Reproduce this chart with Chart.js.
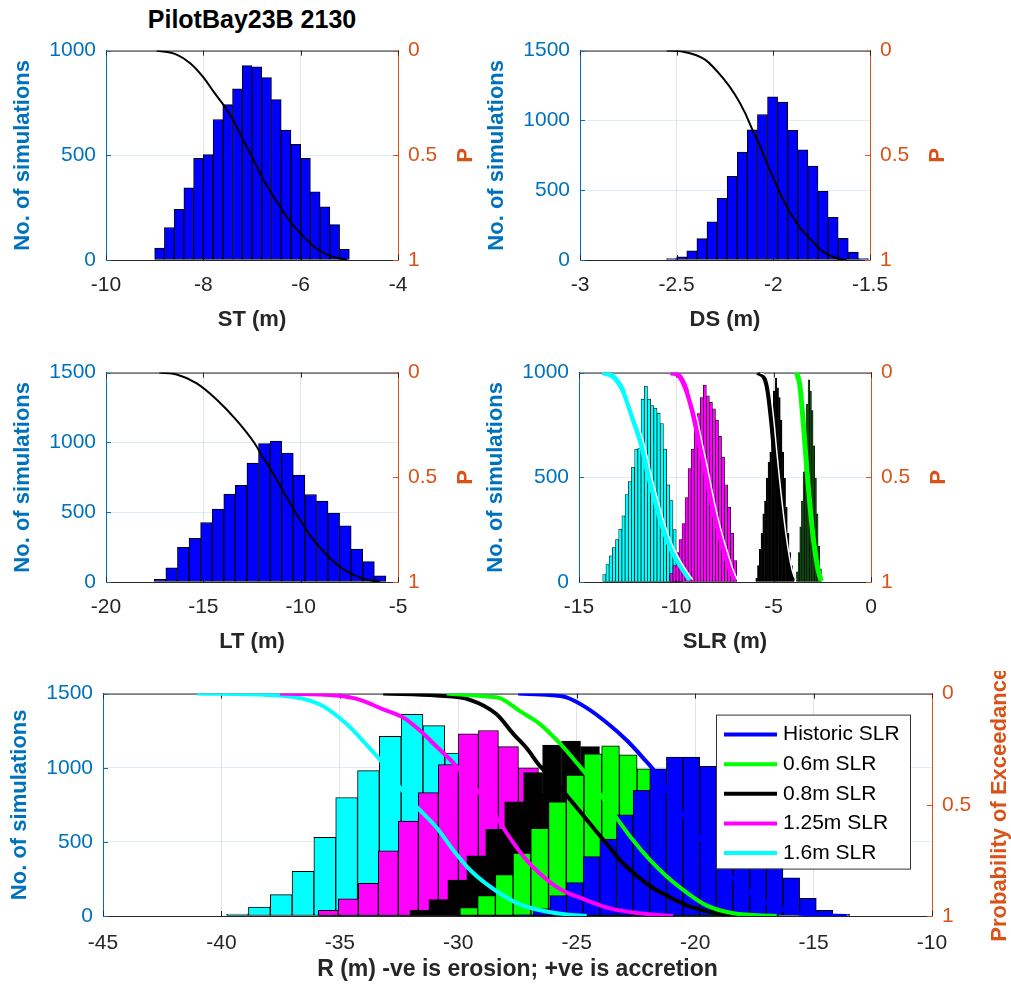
<!DOCTYPE html>
<html>
<head>
<meta charset="utf-8">
<title>PilotBay23B 2130</title>
<script src="https://cdn.jsdelivr.net/npm/chart.js@4.4.1/dist/chart.umd.min.js"></script>
<style>
html, body { margin: 0; padding: 0; background: #fff; overflow: hidden; }
body { width: 1011px; height: 992px; position: relative; }
.plot { position: absolute; }
#figTitle {
	position: absolute; left: 106px; width: 292px; top: 5px;
	text-align: center; white-space: nowrap;
	font: bold 25px "Liberation Sans", Arial, sans-serif; color: #000;
}
</style>
</head>
<body>
<div id="figTitle">PilotBay23B 2130</div>
<canvas id="stChart" class="plot"></canvas>
<canvas id="dsChart" class="plot"></canvas>
<canvas id="ltChart" class="plot"></canvas>
<canvas id="slrChart" class="plot"></canvas>
<canvas id="rChart" class="plot"></canvas>
<script>
// ---- ST (m) ----
const stBinStart = -9.0;
const stBinWidth = 0.2;
const stCounts = [57, 155, 242, 345, 486, 503, 671, 742, 818, 928, 922, 871, 766, 620, 552, 486, 325, 254, 169, 51];
const stCurveX = [-8.96, -8.55, -8.27, -7.99, -7.79, -7.59, -7.38, -7.18, -6.97, -6.77, -6.49, -6.22, -5.99, -5.67, -5.33, -5.05];
const stCurveP = [0, 0.019, 0.06, 0.13, 0.196, 0.258, 0.335, 0.428, 0.521, 0.614, 0.722, 0.815, 0.876, 0.946, 0.985, 1.0];

// ---- DS (m) ----
const dsBinStart = -2.552;
const dsBinWidth = 0.0522;
const dsCounts = [10, 23, 65, 153, 274, 441, 599, 773, 933, 1042, 1168, 1131, 929, 789, 673, 492, 306, 156, 56, 10];
const dsCurveX = [-2.552, -2.466, -2.353, -2.259, -2.198, -2.147, -2.112, -2.069, -2.034, -1.983, -1.931, -1.862, -1.793, -1.741, -1.672, -1.621];
const dsCurveP = [0, 0.005, 0.043, 0.133, 0.211, 0.296, 0.37, 0.455, 0.536, 0.644, 0.745, 0.845, 0.915, 0.961, 0.992, 1.0];

// ---- LT (m) ----
const ltBinStart = -17.52;
const ltBinWidth = 0.595;
const ltCounts = [19, 102, 248, 312, 426, 523, 630, 692, 852, 991, 1009, 924, 766, 627, 579, 493, 403, 236, 146, 44];
const ltCurveX = [-17.26, -16.37, -15.34, -14.32, -13.29, -12.43, -11.92, -11.40, -10.89, -10.21, -9.52, -8.84, -8.15, -7.47, -6.78, -5.92];
const ltCurveP = [0, 0.009, 0.051, 0.128, 0.228, 0.329, 0.406, 0.483, 0.568, 0.676, 0.776, 0.853, 0.915, 0.957, 0.985, 1.0];

// ---- SLR (m) ----
const slrCyanStart = -13.78, slrCyanWidth = 0.164;
const slrCyanCounts = [36, 86, 125, 164, 202, 253, 316, 418, 480, 548, 634, 640, 873, 935, 873, 842, 830, 807, 757, 634, 464, 389, 250, 120, 35];
const slrMagStart = -10.33, slrMagWidth = 0.156;
const slrMagCounts = [40, 79, 140, 202, 279, 403, 542, 634, 727, 804, 881, 940, 889, 858, 827, 773, 696, 596, 464, 356, 233, 102];
const slrBlackStart = -5.92, slrBlackWidth = 0.09;
const slrBlackCounts = [17, 79, 156, 233, 325, 387, 495, 573, 619, 681, 912, 974, 927, 881, 773, 619, 495, 356, 233, 140, 79, 33];
const slrGreenStart = -3.83, slrGreenWidth = 0.0855;
const slrGreenCounts = [48, 140, 264, 387, 526, 619, 850, 966, 912, 819, 650, 495, 325, 171, 63];

const slrCyanX = [-13.80, -13.24, -12.73, -12.21, -11.78, -11.44, -11.10, -10.76, -10.33, -9.90, -9.47, -9.30];
const slrCyanP = [0, 0.019, 0.088, 0.227, 0.35, 0.49, 0.61, 0.72, 0.83, 0.906, 0.968, 0.99];
const slrCyanWhiteX = [-12.58, -12.06, -11.63, -11.29, -10.95, -10.61, -10.18, -9.75, -9.32, -9.15];
const slrCyanWhiteP = [0.088, 0.227, 0.35, 0.49, 0.61, 0.72, 0.83, 0.906, 0.968, 0.99];
const slrMagX = [-10.28, -9.82, -9.47, -9.14, -8.79, -8.54, -8.28, -8.02, -7.77, -7.51, -7.25, -7.0];
const slrMagP = [0, 0.019, 0.088, 0.196, 0.35, 0.458, 0.58, 0.69, 0.78, 0.86, 0.937, 0.99];
const slrMagWhiteX = [-9.32, -8.99, -8.64, -8.39, -8.13, -7.87, -7.62, -7.36, -7.10, -6.86];
const slrMagWhiteP = [0.088, 0.196, 0.35, 0.458, 0.58, 0.69, 0.78, 0.86, 0.937, 0.99];
const slrBlackX = [-5.82, -5.46, -5.29, -5.11, -4.94, -4.77, -4.60, -4.43, -4.26, -4.09, -3.97];
const slrBlackP = [0, 0.026, 0.088, 0.227, 0.397, 0.551, 0.69, 0.81, 0.906, 0.968, 0.99];
const slrBlackWhiteX = [-5.68, -5.33, -5.17, -4.99, -4.82, -4.65, -4.48, -4.31, -4.14, -3.97, -3.85];
const slrGreenX = [-3.83, -3.66, -3.49, -3.35, -3.23, -3.11, -2.98, -2.84, -2.70, -2.55];
const slrGreenP = [0, 0.057, 0.227, 0.397, 0.535, 0.66, 0.78, 0.875, 0.95, 0.995];

// ---- R (m), one histogram + exceedance curve per scenario ----
const scenarioLabels = ["Historic SLR", "0.6m SLR", "0.8m SLR", "1.25m SLR", "1.6m SLR"];
const rBlueStart = -27.54, rBlueWidth = 0.703;
const rBlueCounts = [8, 50, 137, 225, 400, 519, 683, 847, 993, 1072, 1072, 1010, 960, 840, 680, 420, 258, 120, 39, 11];
const rGreenStart = -29.93, rGreenWidth = 0.748;
const rGreenCounts = [57, 137, 280, 425, 592, 770, 950, 1094, 1148, 1087, 993, 820, 620, 420, 250, 120, 45, 15];
const rBlackStart = -32.04, rBlackWidth = 0.8;
const rBlackCounts = [39, 111, 242, 406, 585, 770, 967, 1153, 1179, 1142, 980, 760, 540, 340, 180, 80, 25];
const rMagStart = -35.91, rMagWidth = 0.845;
const rMagCounts = [39, 116, 220, 439, 640, 832, 1022, 1229, 1251, 1142, 1000, 820, 620, 420, 250, 120, 40];
const rCyanStart = -39.78, rCyanWidth = 0.921;
const rCyanCounts = [13, 61, 144, 301, 530, 799, 980, 1211, 1360, 1284, 1098, 880, 640, 420, 230, 100, 30];

const rBlueX = [-27.47, -26.13, -25.43, -24.58, -23.74, -22.89, -22.19, -21.63, -20.8, -20.0, -19.0, -18.0, -17.0, -16.0, -15.0, -13.6];
const rBlueP = [0, 0.006, 0.017, 0.064, 0.130, 0.210, 0.290, 0.36, 0.50, 0.62, 0.76, 0.87, 0.94, 0.98, 0.995, 1.0];
const rGreenX = [-30.49, -28.80, -28.24, -27.40, -26.55, -25.71, -25.00, -24.44, -23.88, -23.32, -22.61, -21.91, -21.21, -20.36, -19.52, -18.39, -16.56];
const rGreenP = [0, 0.013, 0.020, 0.079, 0.137, 0.224, 0.311, 0.384, 0.472, 0.559, 0.661, 0.748, 0.821, 0.894, 0.952, 0.988, 1.0];
const rBlackX = [-33.17, -30.91, -29.51, -28.38, -27.68, -27.11, -26.55, -25.99, -25.43, -24.86, -24.30, -23.74, -23.18, -22.61, -21.91, -21.21, -20.36, -19.24, -17.97];
const rBlackP = [0, 0.009, 0.028, 0.093, 0.181, 0.246, 0.326, 0.384, 0.457, 0.530, 0.603, 0.675, 0.748, 0.806, 0.865, 0.908, 0.952, 0.984, 1.0];
const rMagX = [-37.53, -35.14, -34.15, -33.17, -32.32, -31.62, -30.91, -30.21, -29.51, -28.80, -28.24, -27.68, -27.11, -26.55, -25.71, -24.73, -23.60, -22.33, -20.93];
const rMagP = [0, 0.009, 0.028, 0.071, 0.108, 0.166, 0.239, 0.311, 0.399, 0.486, 0.58, 0.67, 0.75, 0.81, 0.879, 0.923, 0.966, 0.988, 1.0];
const rCyanX = [-41.04, -37.53, -35.84, -34.71, -33.87, -33.31, -32.53, -31.76, -30.91, -30.21, -29.51, -28.80, -28.10, -27.40, -26.55, -25.43, -24.58];
const rCyanP = [0, 0.009, 0.049, 0.137, 0.231, 0.297, 0.413, 0.508, 0.603, 0.704, 0.792, 0.857, 0.908, 0.948, 0.974, 0.993, 1.0];

const FONT = '"Liberation Sans", Arial, Helvetica, sans-serif';
const AX_BLUE = "#0072BD";
const AX_ORANGE = "#D95319";
const INK = "#262626";

Chart.defaults.font.family = FONT;
Chart.defaults.font.size = 21;
Chart.defaults.animation = false;

const LEFT_W = 105;
const RIGHT_W = 80;
const TOP_PAD = 16;

// plain MATLAB-style tick text: no thousands separator, no trailing zeros
const plainTick = (v) => String(Math.round(v * 100) / 100);

function binsToPoints(start, width, counts) {
	return counts.map((n, i) => ({ x: start + width * (i + 0.5), y: n }));
}
function curvePoints(xs, ps) {
	return xs.map((x, i) => ({ x: x, y: ps[i] }));
}

// box top edge, inward ticks, right-hand label and the legend
const framePlugin = {
	id: "frame",
	beforeDatasetsDraw(chart) {
		const { ctx, chartArea: a, scales } = chart;
		const len = 5;
		ctx.save();
		ctx.lineWidth = 1;
		ctx.strokeStyle = INK;
		ctx.beginPath();
		ctx.moveTo(a.left, a.top + 0.5);
		ctx.lineTo(a.right, a.top + 0.5);
		ctx.stroke();
		scales.x.ticks.forEach((t) => {
			const px = Math.round(scales.x.getPixelForValue(t.value)) + 0.5;
			ctx.beginPath();
			ctx.moveTo(px, a.top);
			ctx.lineTo(px, a.top + len);
			ctx.moveTo(px, a.bottom);
			ctx.lineTo(px, a.bottom - len);
			ctx.stroke();
		});
		ctx.strokeStyle = AX_BLUE;
		scales.y.ticks.forEach((t) => {
			const py = Math.round(scales.y.getPixelForValue(t.value)) + 0.5;
			ctx.beginPath();
			ctx.moveTo(a.left, py);
			ctx.lineTo(a.left + len, py);
			ctx.stroke();
		});
		ctx.strokeStyle = AX_ORANGE;
		scales.y1.ticks.forEach((t) => {
			const py = Math.round(scales.y1.getPixelForValue(t.value)) + 0.5;
			ctx.beginPath();
			ctx.moveTo(a.right, py);
			ctx.lineTo(a.right - len, py);
			ctx.stroke();
		});
		ctx.restore();
	},
	afterDraw(chart, args, opts) {
		const { ctx, chartArea: a } = chart;
		if (opts.rightTitle) {
			ctx.save();
			ctx.translate(a.right + 68, (a.top + a.bottom) / 2);
			ctx.rotate(-Math.PI / 2);
			ctx.font = "bold 22px " + FONT;
			ctx.fillStyle = AX_ORANGE;
			ctx.textAlign = "center";
			ctx.textBaseline = "middle";
			ctx.fillText(opts.rightTitle, 0, 0);
			ctx.restore();
		}
		if (opts.legend) {
			const lg = opts.legend;
			const x0 = a.right - lg.right - lg.width;
			const y0 = a.top + lg.top;
			ctx.save();
			ctx.fillStyle = "#fff";
			ctx.fillRect(x0, y0, lg.width, lg.height);
			ctx.strokeStyle = "#333";
			ctx.lineWidth = 1;
			ctx.strokeRect(x0 + 0.5, y0 + 0.5, lg.width, lg.height);
			ctx.font = "21px " + FONT;
			ctx.textAlign = "left";
			ctx.textBaseline = "middle";
			chart.data.datasets.filter((d) => d.inLegend).forEach((d, i) => {
				const y = y0 + lg.firstRow + i * lg.rowGap;
				ctx.strokeStyle = d.borderColor;
				ctx.lineWidth = 4;
				ctx.beginPath();
				ctx.moveTo(x0 + 8, y);
				ctx.lineTo(x0 + 61, y);
				ctx.stroke();
				ctx.fillStyle = "#000";
				ctx.fillText(d.label, x0 + 67, y);
			});
			ctx.restore();
		}
	},
};

function drawPanel(id, panel) {
	const canvas = document.getElementById(id);
	const [L, T, R, B] = panel.rect;
	canvas.width = R - L + LEFT_W + RIGHT_W;
	canvas.height = B - T + TOP_PAD + panel.bottomH;
	canvas.style.left = L - LEFT_W + "px";
	canvas.style.top = T - TOP_PAD + "px";

	const scales = {
		x: {
			type: "linear",
			position: "bottom",
			min: panel.xMin,
			max: panel.xMax,
			offset: false,
			ticks: { stepSize: panel.xStep, color: INK, padding: panel.xTickPad || 13, maxRotation: 0, autoSkip: false, callback: plainTick },
			grid: { color: "rgba(38,38,38,0.13)", drawTicks: false, offset: false },
			border: { color: INK, width: 1 },
			title: {
				display: true,
				text: panel.xTitle,
				color: INK,
				font: { size: panel.xTitleSize || 22, weight: "bold" },
				padding: { top: 0, bottom: panel.xTitlePad || 5 },
			},
			afterFit: (s) => {
				s.height = panel.bottomH;
			},
		},
		y: {
			type: "linear",
			position: "left",
			min: 0,
			max: panel.yMax,
			ticks: { stepSize: 500, color: AX_BLUE, padding: 10, callback: plainTick },
			grid: { color: "rgba(0,114,189,0.13)", drawTicks: false },
			border: { color: AX_BLUE, width: 1 },
			title: {
				display: true,
				text: "No. of simulations",
				color: AX_BLUE,
				font: { size: 22, weight: "bold" },
				padding: { top: 9, bottom: 0 },
			},
			afterFit: (s) => {
				s.width = LEFT_W;
			},
		},
		y1: {
			type: "linear",
			position: "right",
			min: 0,
			max: 1,
			reverse: true,
			ticks: { stepSize: 0.5, color: AX_ORANGE, padding: 10, callback: plainTick },
			grid: { display: false, drawTicks: false },
			border: { color: AX_ORANGE, width: 1 },
			afterFit: (s) => {
				s.width = RIGHT_W;
			},
		},
	};

	const datasets = [];
	panel.curves.forEach((c) => {
		datasets.push({
			type: "line",
			label: c.label,
			inLegend: !!c.label,
			data: curvePoints(c.xs, c.ps),
			xAxisID: "x",
			yAxisID: "y1",
			borderColor: c.color,
			borderWidth: c.width,
			pointRadius: 0,
			fill: false,
			cubicInterpolationMode: "monotone",
			order: c.order === undefined ? 1 : c.order,
		});
	});
	// each histogram on its own hidden x axis so its bar width follows its own bin width
	panel.hists.forEach((h, k) => {
		const axisId = "h" + k;
		scales[axisId] = {
			type: "linear",
			display: false,
			min: panel.xMin,
			max: panel.xMax,
			offset: false,
			grid: { offset: false },
		};
		datasets.push({
			type: "bar",
			data: binsToPoints(h.start, h.width, h.counts),
			xAxisID: axisId,
			yAxisID: "y",
			backgroundColor: h.color,
			borderColor: "#000",
			borderWidth: h.edge === undefined ? 1 : h.edge,
			borderSkipped: false,
			barPercentage: 1,
			categoryPercentage: 1,
			grouped: false,
			order: 2 + k,
		});
	});

	return new Chart(canvas, {
		type: "line",
		data: { datasets: datasets },
		options: {
			responsive: false,
			layout: { padding: { top: TOP_PAD, left: 0, right: 0, bottom: 0 } },
			scales: scales,
			plugins: {
				legend: { display: false },
				tooltip: { enabled: false },
				frame: { rightTitle: panel.rightTitle, legend: panel.legend },
			},
		},
		plugins: [framePlugin],
	});
}

drawPanel("stChart", {
	rect: [106, 44, 398, 260],
	bottomH: 78,
	xMin: -10, xMax: -4, xStep: 2, yMax: 1000,
	xTitle: "ST (m)",
	rightTitle: "P",
	hists: [{ start: stBinStart, width: stBinWidth, counts: stCounts, color: "#0000ff" }],
	curves: [{ xs: stCurveX, ps: stCurveP, color: "#000", width: 2 }],
});

drawPanel("dsChart", {
	rect: [580, 44, 870, 260],
	bottomH: 78,
	xMin: -3, xMax: -1.5, xStep: 0.5, yMax: 1500,
	xTitle: "DS (m)",
	rightTitle: "P",
	hists: [{ start: dsBinStart, width: dsBinWidth, counts: dsCounts, color: "#0000ff" }],
	curves: [{ xs: dsCurveX, ps: dsCurveP, color: "#000", width: 2 }],
});

drawPanel("ltChart", {
	rect: [106, 366, 398, 582],
	bottomH: 78,
	xMin: -20, xMax: -5, xStep: 5, yMax: 1500,
	xTitle: "LT (m)",
	rightTitle: "P",
	hists: [{ start: ltBinStart, width: ltBinWidth, counts: ltCounts, color: "#0000ff" }],
	curves: [{ xs: ltCurveX, ps: ltCurveP, color: "#000", width: 2 }],
});

drawPanel("slrChart", {
	rect: [579, 366, 871, 582],
	bottomH: 78,
	xMin: -15, xMax: 0, xStep: 5, yMax: 1000,
	xTitle: "SLR (m)",
	rightTitle: "P",
	hists: [
		{ start: slrGreenStart, width: slrGreenWidth, counts: slrGreenCounts, color: "#0b4d0b", edge: 0.6 },
		{ start: slrBlackStart, width: slrBlackWidth, counts: slrBlackCounts, color: "#000", edge: 0.6 },
		{ start: slrMagStart, width: slrMagWidth, counts: slrMagCounts, color: "#ff00ff", edge: 0.7 },
		{ start: slrCyanStart, width: slrCyanWidth, counts: slrCyanCounts, color: "#00ffff", edge: 0.7 },
	],
	curves: [
		{ xs: slrCyanWhiteX, ps: slrCyanWhiteP, color: "#fff", width: 1.5, order: 0 },
		{ xs: slrMagWhiteX, ps: slrMagWhiteP, color: "#fff", width: 1.5, order: 0 },
		{ xs: slrBlackWhiteX, ps: slrBlackP, color: "#fff", width: 1.5, order: 0 },
		{ xs: slrGreenX, ps: slrGreenP, color: "#00ff00", width: 5 },
		{ xs: slrBlackX, ps: slrBlackP, color: "#000", width: 5 },
		{ xs: slrMagX, ps: slrMagP, color: "#ff00ff", width: 5 },
		{ xs: slrCyanX, ps: slrCyanP, color: "#00ffff", width: 5 },
	],
});

drawPanel("rChart", {
	rect: [103, 687, 932, 916],
	bottomH: 78,
	xMin: -45, xMax: -10, xStep: 5, yMax: 1500,
	xTickPad: 15, xTitleSize: 23, xTitlePad: 11,
	xTitle: "R (m) -ve is erosion; +ve is accretion",
	rightTitle: "Probability of Exceedance",
	legend: { right: 22, width: 194, top: 21, height: 154, firstRow: 20, rowGap: 29.6 },
	hists: [
		{ start: rBlueStart, width: rBlueWidth, counts: rBlueCounts, color: "#0000ff" },
		{ start: rGreenStart, width: rGreenWidth, counts: rGreenCounts, color: "#00ff00" },
		{ start: rBlackStart, width: rBlackWidth, counts: rBlackCounts, color: "#000000" },
		{ start: rMagStart, width: rMagWidth, counts: rMagCounts, color: "#ff00ff" },
		{ start: rCyanStart, width: rCyanWidth, counts: rCyanCounts, color: "#00ffff" },
	],
	curves: [
		{ label: scenarioLabels[0], xs: rBlueX, ps: rBlueP, color: "#0000ff", width: 4 },
		{ label: scenarioLabels[1], xs: rGreenX, ps: rGreenP, color: "#00ff00", width: 4 },
		{ label: scenarioLabels[2], xs: rBlackX, ps: rBlackP, color: "#000000", width: 4 },
		{ label: scenarioLabels[3], xs: rMagX, ps: rMagP, color: "#ff00ff", width: 4 },
		{ label: scenarioLabels[4], xs: rCyanX, ps: rCyanP, color: "#00ffff", width: 4 },
	],
});
</script>
</body>
</html>
